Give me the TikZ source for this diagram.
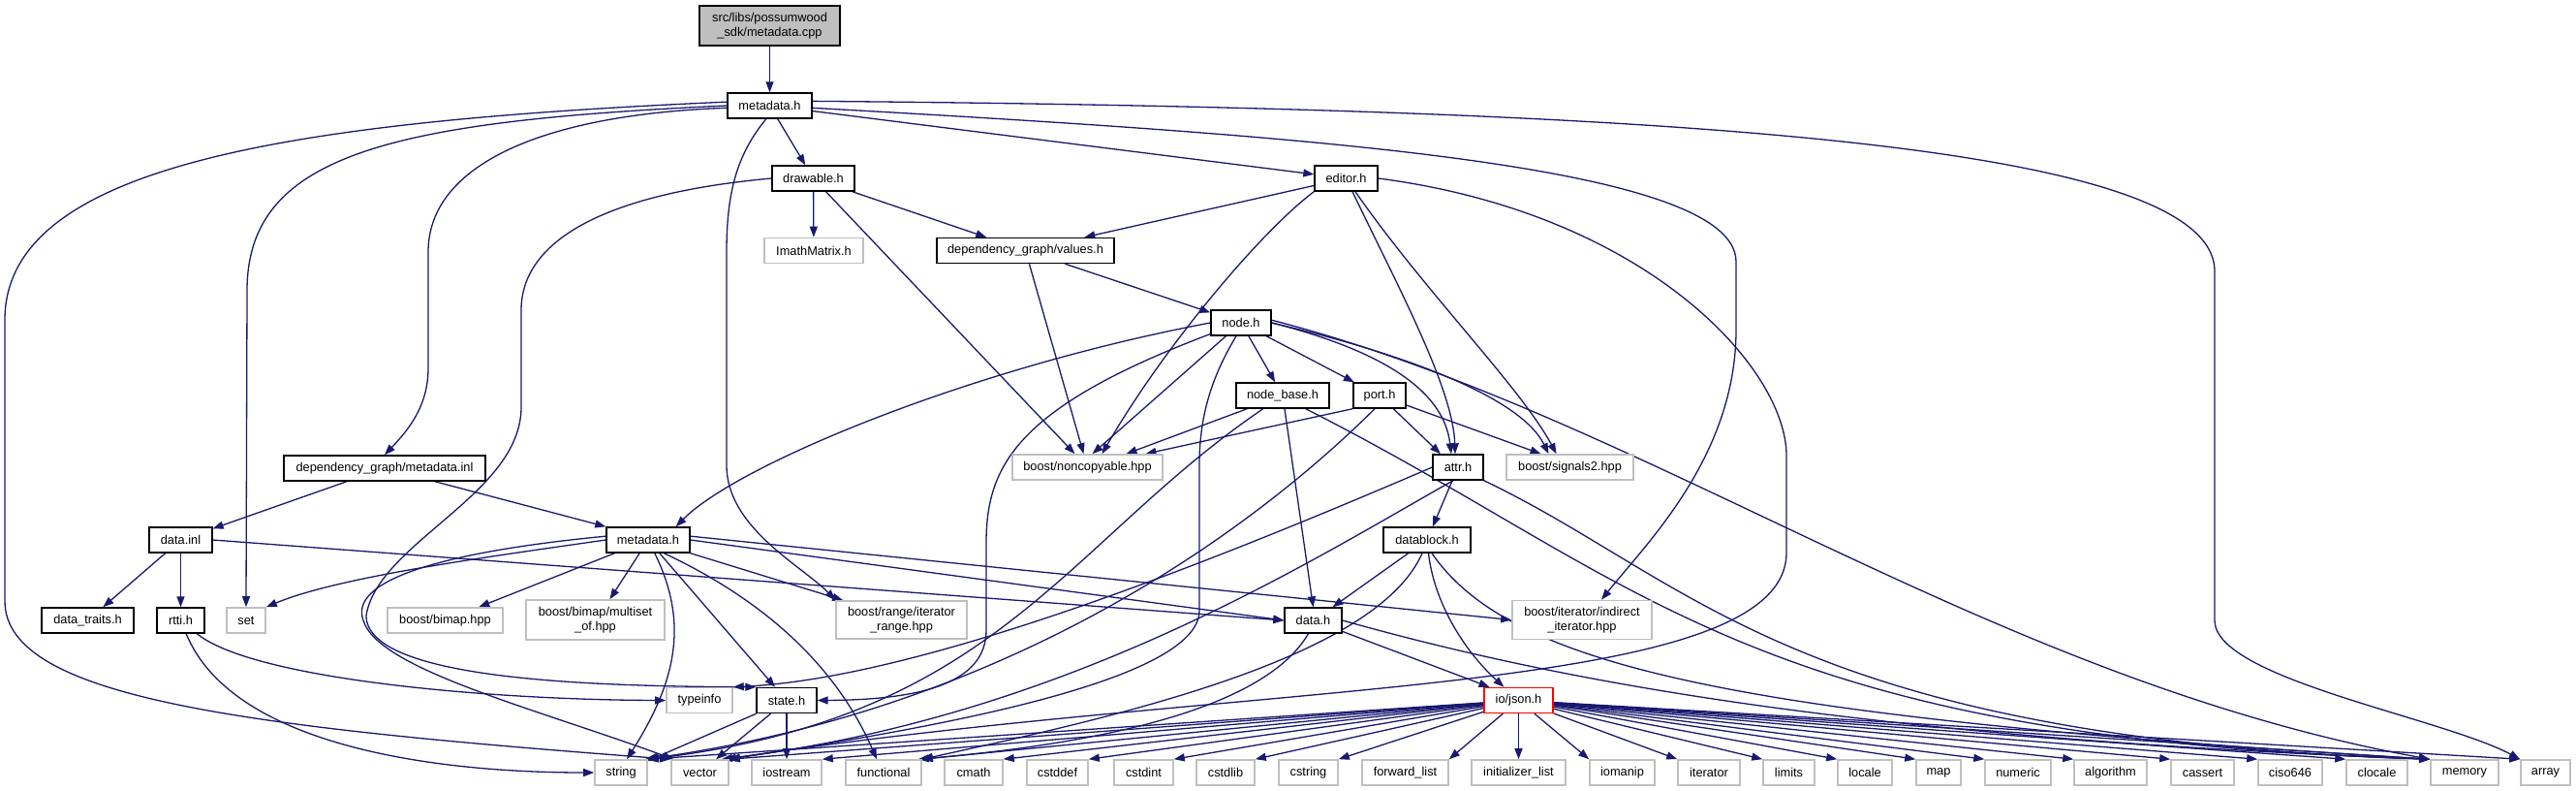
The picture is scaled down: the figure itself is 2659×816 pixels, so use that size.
\documentclass[tikz,border=0pt]{standalone}
\usepackage{fontspec}
\setmainfont{Liberation Sans}
\usepackage{tikz}
\usetikzlibrary{arrows.meta, backgrounds}

\definecolor{depblue}{RGB}{25,25,112}
\definecolor{extgray}{RGB}{191,191,191}
\tikzset{
    hdr/.style={rectangle, draw=black, fill=white, line width=1.4pt, minimum height=26pt, inner sep=0pt, align=center, font=\fontsize{12.8}{15}\selectfont},
    syshdr/.style={hdr, draw=extgray, line width=1.6pt},
    srcfile/.style={hdr, fill=extgray},
    cuthdr/.style={hdr, draw=red},
    dep/.style={-{Triangle[length=11pt,width=8pt]}, draw=depblue, line width=1.3pt}
}

\begin{document}
\begin{tikzpicture}[x=1pt, y=-1pt]
\useasboundingbox (0,0) rectangle (2659,816);

% project headers
\node[srcfile, minimum width=145pt, minimum height=41pt] (cpp) at (794.5,26.5) {src/libs/possumwood\\\_sdk/metadata.cpp};
\node[hdr, minimum width=87pt] (sdkmeta) at (794.5,109) {metadata.h};
\node[hdr, minimum width=85pt] (drawable) at (839.5,184) {drawable.h};
\node[hdr, minimum width=65pt] (editor) at (1389.5,184) {editor.h};
\node[syshdr, minimum width=102pt] (imath) at (840,258.5) {ImathMatrix.h};
\node[hdr, minimum width=183pt] (values) at (1058.5,258.5) {dependency\_graph/values.h};
\node[hdr, minimum width=62pt] (nodeh) at (1281,333) {node.h};
\node[hdr, minimum width=96pt] (nodebase) at (1324,408) {node\_base.h};
\node[hdr, minimum width=54pt] (port) at (1424,408) {port.h};
\node[syshdr, minimum width=155pt] (noncopy) at (1122.5,482) {boost/noncopyable.hpp};
\node[hdr, minimum width=52pt] (attr) at (1505,482) {attr.h};
\node[syshdr, minimum width=131pt] (signals) at (1620.5,482) {boost/signals2.hpp};
\node[hdr, minimum width=90pt] (datablock) at (1473,557) {datablock.h};
\node[hdr, minimum width=208pt] (metainl) at (397,483) {dependency\_graph/metadata.inl};
\node[hdr, minimum width=65pt] (datainl) at (186.5,557) {data.inl};
\node[hdr, minimum width=86pt] (graphmeta) at (669,557) {metadata.h};
\node[hdr, minimum width=95pt] (traits) at (90.5,640) {data\_traits.h};
\node[hdr, minimum width=49pt] (rtti) at (186.5,640) {rtti.h};
\node[syshdr, minimum width=40pt] (stdset) at (254,640) {set};
\node[syshdr, minimum width=119pt] (bimap) at (459.5,640) {boost/bimap.hpp};
\node[syshdr, minimum width=143pt, minimum height=41pt] (multiset) at (614.5,639.5) {boost/bimap/multiset\\\_of.hpp};
\node[syshdr, minimum width=135pt, minimum height=39pt] (itrange) at (930.5,639.5) {boost/range/iterator\\\_range.hpp};
\node[hdr, minimum width=59pt] (datah) at (1355.5,640) {data.h};
\node[syshdr, minimum width=144pt, minimum height=40pt] (indirect) at (1633,639.5) {boost/iterator/indirect\\\_iterator.hpp};
\node[syshdr, minimum width=68pt] (typeinfo) at (722,722.5) {typeinfo};
\node[hdr, minimum width=62pt] (state) at (812,722.5) {state.h};
\node[cuthdr, minimum width=71pt] (json) at (1567.5,722.5) {io/json.h};

% standard headers
\foreach \nm/\lbl/\x/\w in {
    string/string/641/54, vector/vector/722.5/59, iostream/iostream/812/72,
    functional/functional/912/78, cmath/cmath/1005/60, cstddef/cstddef/1091.5/63,
    cstdint/cstdint/1180.5/61, cstdlib/cstdlib/1265/60, cstring/cstring/1350.5/61,
    fwdlist/forward\_list/1450.5/89, initlist/initializer\_list/1567.5/97,
    iomanip/iomanip/1674.5/67, iterator/iterator/1764/64, limits/limits/1846.5/53,
    locale/locale/1925/56, map/map/2001/46, numeric/numeric/2083/68,
    algorithm/algorithm/2178.5/75, cassert/cassert/2273.5/65, ciso646/ciso646/2364/66,
    clocale/clocale/2453.5/63, memory/memory/2544/70, array/array/2627.5/51}
    \node[syshdr, minimum width=\w pt] (std-\nm) at (\x,797) {\lbl};

\begin{scope}[on background layer]
\fill[white] (0,0) rectangle (2659,816);

\draw[dep] (cpp) -- (sdkmeta);
\draw[dep] (sdkmeta) -- (drawable);
\draw[dep] (sdkmeta) -- (editor);
\draw[dep] (sdkmeta.183) .. controls (560,118) and (442,170) .. (442,260) -- (442,380) .. controls (442,420) and (420,445) .. (metainl.north);
\draw[dep] (sdkmeta.west) .. controls (400,125) and (255,160) .. (255,300) -- (stdset.north);
\draw[dep] (sdkmeta.175) .. controls (300,125) and (5,170) .. (5,330) -- (5,620) .. controls (5,720) and (250,750) .. (std-vector.north west);
\draw[dep] (sdkmeta.255) .. controls (760,160) and (750,200) .. (750,260) -- (750,480) .. controls (750,545) and (830,585) .. (itrange.north west);
\draw[dep] (sdkmeta.-3) .. controls (1350,140) and (1792,170) .. (1792,270) -- (1792,340) .. controls (1792,470) and (1700,560) .. ([xshift=20pt]indirect.north);
\draw[dep] (sdkmeta.6) .. controls (1750,112) and (2286,150) .. (2286,280) -- (2286,640) .. controls (2286,700) and (2520,740) .. (std-array.north west);

\draw[dep] (drawable) -- (imath);
\draw[dep] (drawable) -- (values);
\draw[dep] (drawable) -- (noncopy);
\draw[dep] (drawable.west) .. controls (620,200) and (538,250) .. (538,320) -- (538,420) .. controls (538,510) and (390,560) .. (378,635) .. controls (378,700) and (600,708) .. (state.north west);

\draw[dep] (editor) -- (values);
\draw[dep] (editor.south west) .. controls (1300,240) and (1200,360) .. ([xshift=15pt]noncopy.north);
\draw[dep] (editor) .. controls (1440,290) and (1500,400) .. ([xshift=-3pt]attr.north);
\draw[dep] (editor) .. controls (1470,300) and (1570,400) .. ([xshift=-14pt]signals.north);
\draw[dep] (editor.east) .. controls (1700,220) and (1844,380) .. (1844,470) -- (1844,570) .. controls (1844,720) and (1300,700) .. ([xshift=-4pt]std-vector.north east);

\draw[dep] (values) -- (nodeh);
\draw[dep] (values) -- (noncopy);

\draw[dep] (nodeh) -- (nodebase);
\draw[dep] (nodeh) -- (port);
\draw[dep] (nodeh) -- ([xshift=5pt]noncopy.north);
\draw[dep] (nodeh.east) .. controls (1420,360) and (1490,400) .. ([xshift=-7pt]attr.north);
\draw[dep] (nodeh.east) .. controls (1450,365) and (1570,410) .. ([xshift=-22pt]signals.north);
\draw[dep] (nodeh.5) .. controls (1700,430) and (2050,700) .. (std-memory.north west);
\draw[dep] (nodeh.west) .. controls (1000,380) and (760,480) .. ([xshift=-15pt]graphmeta.north east);
\draw[dep] (nodeh.200) .. controls (1050,420) and (1018,480) .. (1018,560) -- (1018,650) .. controls (1018,705) and (950,722) .. (state.east);
\draw[dep] (nodeh.250) .. controls (1250,390) and (1238,430) .. (1238,480) -- (1238,630) .. controls (1238,710) and (900,760) .. (std-vector.north east);

\draw[dep] (nodebase) -- ([xshift=40pt]noncopy.north);
\draw[dep] (nodebase) -- (datah.north);
\draw[dep] (nodebase) .. controls (1100,560) and (1030,740) .. (std-string.north east);
\draw[dep] (nodebase.-30) .. controls (1700,600) and (1800,760) .. (std-memory.north west);

\draw[dep] (port.south west) -- ([xshift=60pt]noncopy.north);
\draw[dep] (port) -- ([xshift=-18pt]attr.north);
\draw[dep] (port) -- ([xshift=-30pt]signals.north);
\draw[dep] (port.250) .. controls (1300,540) and (1050,730) .. ([xshift=-3pt]std-string.north east);

\draw[dep] (attr) -- (datablock);
\draw[dep] (attr.west) .. controls (1250,580) and (950,700) .. (typeinfo.north east);
\draw[dep] (attr.250) .. controls (1350,580) and (1100,740) .. ([xshift=-8pt]std-vector.north east);
\draw[dep] (attr.south east) .. controls (1750,600) and (1850,760) .. (std-memory.north west);

\draw[dep] (datablock) -- ([xshift=20pt]datah.north);
\draw[dep] (datablock) .. controls (1480,620) and (1510,670) .. ([xshift=-15pt]json.north);
\draw[dep] (datablock.250) .. controls (1420,680) and (1150,740) .. (std-functional.north east);
\draw[dep] (datablock.290) .. controls (1560,690) and (1800,740) .. (std-memory.north west);

\draw[dep] (datah) -- ([xshift=-30pt]json.north);
\draw[dep] (datah.250) .. controls (1300,740) and (1100,770) .. ([xshift=-4pt]std-functional.north east);
\draw[dep] (datah.east) .. controls (1600,700) and (1900,760) .. (std-memory.north west);

\draw[dep] (metainl) -- (datainl);
\draw[dep] (metainl) -- (graphmeta.north west);
\draw[dep] (datainl) -- (traits);
\draw[dep] (datainl) -- (rtti);
\draw[dep] (datainl.east) -- (datah.west);
\draw[dep] (rtti) .. controls (260,700) and (500,722) .. (typeinfo.west);
\draw[dep] (rtti) .. controls (240,770) and (450,797) .. (std-string.west);

\draw[dep] (graphmeta) -- (bimap);
\draw[dep] (graphmeta) -- ([xshift=15pt]multiset.north);
\draw[dep] (graphmeta) .. controls (710,640) and (700,700) .. ([xshift=6pt]std-string.north);
\draw[dep] (graphmeta) -- ([xshift=-12pt]state.north);
\draw[dep] (graphmeta.west) .. controls (500,575) and (350,595) .. (stdset.north east);
\draw[dep] (graphmeta.175) .. controls (450,570) and (360,600) .. (375,640) .. controls (390,690) and (550,730) .. ([xshift=3pt]std-vector.north west);
\draw[dep] (graphmeta.south east) -- ([xshift=8pt]itrange.north west);
\draw[dep] (graphmeta.-40) .. controls (780,615) and (860,680) .. ([xshift=-7pt]std-functional.north);
\draw[dep] (graphmeta.east) -- (datah.west);
\draw[dep] (graphmeta.5) -- (indirect.west);

\draw[dep] (state) -- (std-string);
\draw[dep] (state) -- (std-vector);
\draw[dep] (state) -- (std-iostream);

% io/json.h fans out to the whole row
\foreach \nm in {string,vector,iostream,functional,cmath,cstddef,cstdint,cstdlib,cstring,fwdlist}
    \draw[dep] (json) -- (std-\nm.north east);
\draw[dep] (json) -- (std-initlist);
\foreach \nm in {iomanip,iterator,limits,locale,map,numeric,algorithm,cassert,ciso646,clocale,memory,array}
    \draw[dep] (json) -- (std-\nm.north west);
\end{scope}

\end{tikzpicture}
\end{document}
